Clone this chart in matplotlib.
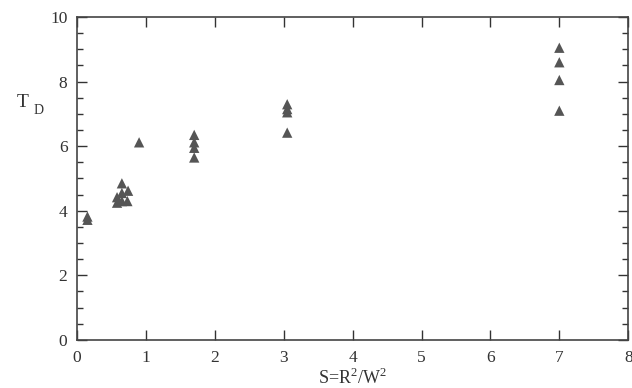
import matplotlib.pyplot as plt
from matplotlib.ticker import MultipleLocator

plt.rcParams['font.family'] = ['Liberation Serif', 'DejaVu Serif']
plt.rcParams['mathtext.fontset'] = 'custom'
plt.rcParams['mathtext.rm'] = 'Liberation Serif'

# measured points: S = R^2/W^2 against T_D
s_vals = [0.15, 0.15,
          0.58, 0.58, 0.65, 0.65, 0.65, 0.73, 0.74,
          0.90,
          1.70, 1.70, 1.70, 1.70,
          3.05, 3.05, 3.05, 3.05,
          7.0, 7.0, 7.0, 7.0]
td_vals = [3.82, 3.72,
           4.25, 4.42, 4.85, 4.55, 4.30, 4.30, 4.62,
           6.12,
           6.35, 6.12, 5.95, 5.65,
           7.30, 7.15, 7.05, 6.42,
           9.05, 8.60, 8.05, 7.10]

fig = plt.figure(figsize=(6.32, 3.88), dpi=100)
ax = fig.add_axes([0.122, 0.124, 0.872, 0.832])

ax.scatter(s_vals, td_vals, marker='^', s=55, color='#555555', edgecolors='none', zorder=3)

ax.set_xlim(0, 8)
ax.set_ylim(0, 10)
ax.xaxis.set_major_locator(MultipleLocator(1))
ax.yaxis.set_major_locator(MultipleLocator(2))
ax.yaxis.set_minor_locator(MultipleLocator(0.5))
ax.tick_params(axis='both', which='both', direction='in', top=True, right=True,
               colors='#333333', labelcolor='#333333', labelsize=12.5)
ax.tick_params(axis='both', which='major', length=7, width=1.0, pad=7)
ax.tick_params(axis='y', which='minor', length=4, width=1.0)
for sp in ax.spines.values():
    sp.set_color('#444444')
    sp.set_linewidth(1.2)

ax.set_xlabel(r'S=R$^{\mathrm{2}}$/W$^{\mathrm{2}}$', fontsize=13, color='#333333', labelpad=2)
fig.text(0.027, 0.725, 'T', fontsize=14, color='#333333')
fig.text(0.053, 0.705, 'D', fontsize=10, color='#333333')

fig.savefig('out.png', dpi=100)
